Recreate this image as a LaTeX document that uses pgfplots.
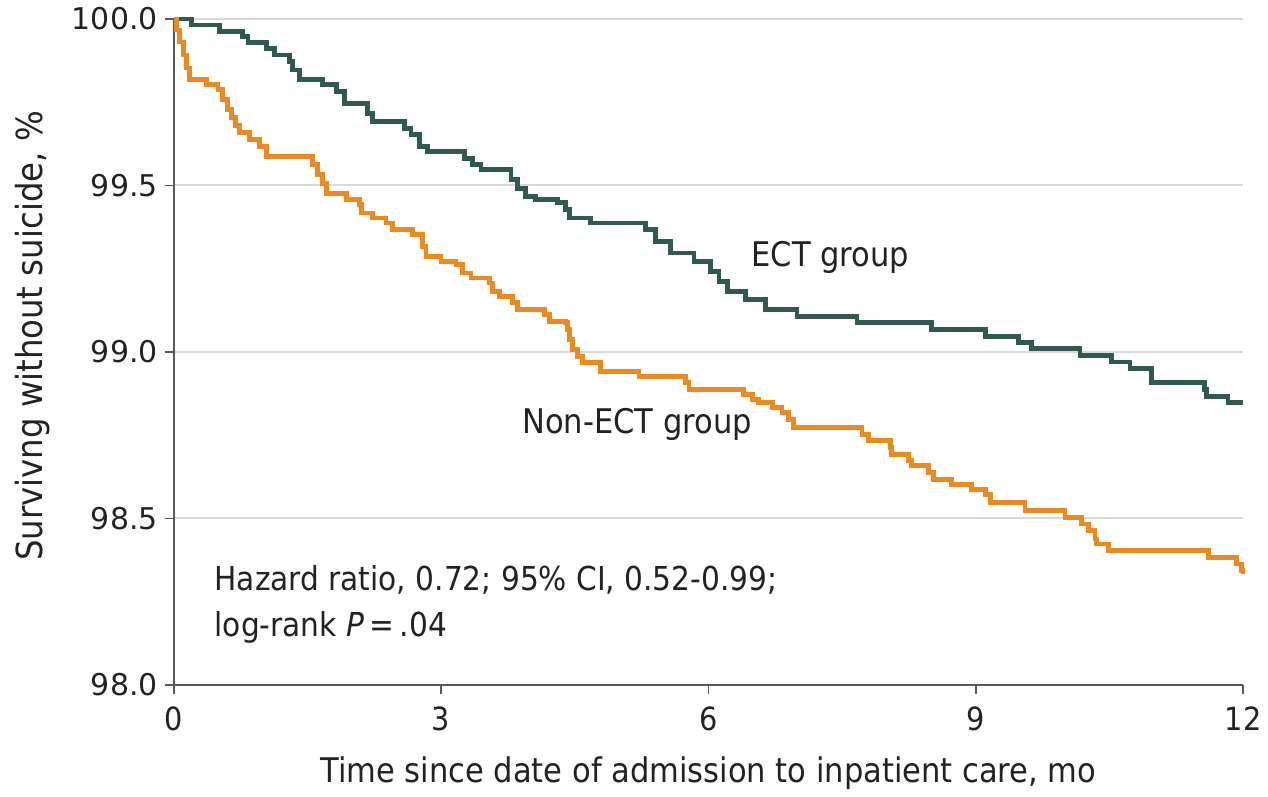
\documentclass[border=0pt]{standalone}
\usepackage{pgfplots}
\pgfplotsset{compat=1.18}
\usepackage{fontspec}
\setmainfont{DejaVu Sans}
\newfontfamily\condf{DejaVu Sans Condensed}
\definecolor{ectcol}{HTML}{2E5A51}
\definecolor{noncol}{HTML}{EE8A1D}
\definecolor{txtcol}{HTML}{222222}
\begin{document}
\begin{tikzpicture}
\begin{axis}[
  scale only axis,
  width=535.5pt, height=333.5pt,
  xmin=0, xmax=12, ymin=98, ymax=100,
  xtick={0,3,6,9,12},
  ytick={98,98.5,99,99.5,100},
  axis x line*=bottom, axis y line*=left,
  axis line style={color=black!65, line width=0.8pt},
  tick style={color=black!65, line width=0.8pt},
  tick align=outside, major tick length=4.5pt,
  ymajorgrids, grid style={color=black!15, line width=1pt},
  clip=false,
  /pgf/number format/assume math mode=true,
  yticklabel style={/pgf/number format/fixed, /pgf/number format/precision=1, /pgf/number format/fixed zerofill, font=\fontsize{15}{18}\selectfont, text=txtcol},
  xticklabel style={font=\condf\fontsize{16}{19}\selectfont, text=txtcol, yshift=-3pt},
  xlabel={Time since date of admission to inpatient care, mo},
  ylabel={Survivng without suicide, \%},
  xlabel style={font=\condf\fontsize{17}{20}\selectfont, text=txtcol, yshift=-6pt},
  ylabel style={font=\condf\fontsize{18}{21}\selectfont, text=txtcol, yshift=4pt, xshift=8pt},
]
\addplot[const plot, color=ectcol, line width=2.4pt] coordinates {
(0,100.000) (0.198,99.982) (0.515,99.962) (0.776,99.947) (0.833,99.929)
(1.039,99.912) (1.132,99.892) (1.300,99.872) (1.337,99.847) (1.412,99.819)
(1.673,99.802) (1.823,99.782) (1.916,99.747) (2.177,99.717) (2.233,99.692)
(2.588,99.672) (2.663,99.652) (2.756,99.617) (2.849,99.602) (3.261,99.582)
(3.354,99.562) (3.448,99.547) (3.784,99.517) (3.858,99.492) (3.952,99.467)
(4.064,99.457) (4.303,99.448) (4.400,99.427) (4.437,99.402) (4.680,99.387)
(5.296,99.367) (5.408,99.332) (5.577,99.297) (5.838,99.272) (6.025,99.242)
(6.118,99.212) (6.211,99.182) (6.417,99.157) (6.641,99.127) (6.995,99.107)
(7.667,99.088) (8.508,99.067) (9.106,99.047) (9.479,99.028) (9.628,99.010)
(10.170,98.990) (10.524,98.970) (10.731,98.950) (10.973,98.908) (11.571,98.888)
(11.589,98.867) (11.832,98.848) (12.0,98.848)
};
\addplot[const plot, color=noncol, line width=2.4pt] coordinates {
(0,100.000) (0.034,99.967) (0.067,99.931) (0.112,99.892) (0.146,99.853)
(0.179,99.817) (0.366,99.802) (0.496,99.787) (0.549,99.757) (0.605,99.727)
(0.650,99.703) (0.695,99.679) (0.739,99.658) (0.852,99.637) (0.964,99.617)
(1.039,99.587) (1.561,99.562) (1.613,99.532) (1.673,99.507) (1.711,99.477)
(1.935,99.457) (2.084,99.442) (2.103,99.417) (2.233,99.402) (2.383,99.387)
(2.457,99.367) (2.681,99.352) (2.793,99.317) (2.831,99.287) (2.999,99.272)
(3.168,99.262) (3.241,99.237) (3.336,99.222) (3.541,99.207) (3.578,99.182)
(3.653,99.167) (3.802,99.148) (3.858,99.127) (4.157,99.112) (4.213,99.092)
(4.400,99.088) (4.415,99.067) (4.437,99.037) (4.474,99.007) (4.527,98.987)
(4.587,98.968) (4.792,98.942) (5.221,98.927) (5.745,98.908) (5.782,98.888)
(6.398,98.873) (6.491,98.858) (6.566,98.848) (6.715,98.833) (6.827,98.818)
(6.902,98.798) (6.958,98.773) (7.723,98.753) (7.798,98.733) (8.041,98.713)
(8.059,98.693) (8.247,98.673) (8.283,98.658) (8.471,98.638) (8.527,98.618)
(8.732,98.603) (8.956,98.588) (9.106,98.573) (9.162,98.548) (9.554,98.523)
(10.002,98.503) (10.188,98.483) (10.263,98.463) (10.338,98.438) (10.356,98.423)
(10.487,98.403) (11.608,98.383) (11.925,98.363) (11.981,98.343) (12.0,98.333)
};
\node[font=\condf\fontsize{17}{20}\selectfont, text=txtcol] at (axis cs:7.37,99.283) {ECT group};
\node[font=\condf\fontsize{17}{20}\selectfont, text=txtcol] at (axis cs:5.2,98.783) {Non-ECT group};
\node[font=\condf\fontsize{16.5}{23}\selectfont, text=txtcol, anchor=west, align=left] at (axis cs:0.38,98.242) {Hazard ratio, 0.72; 95\% CI, 0.52-0.99;\\log-rank \textit{P}\,=\,.04};
\end{axis}
\path[use as bounding box] ([shift={(-87pt,-53.5pt)}]current axis.south west) rectangle ([shift={(11.5pt,9.5pt)}]current axis.north east);
\end{tikzpicture}
\end{document}
